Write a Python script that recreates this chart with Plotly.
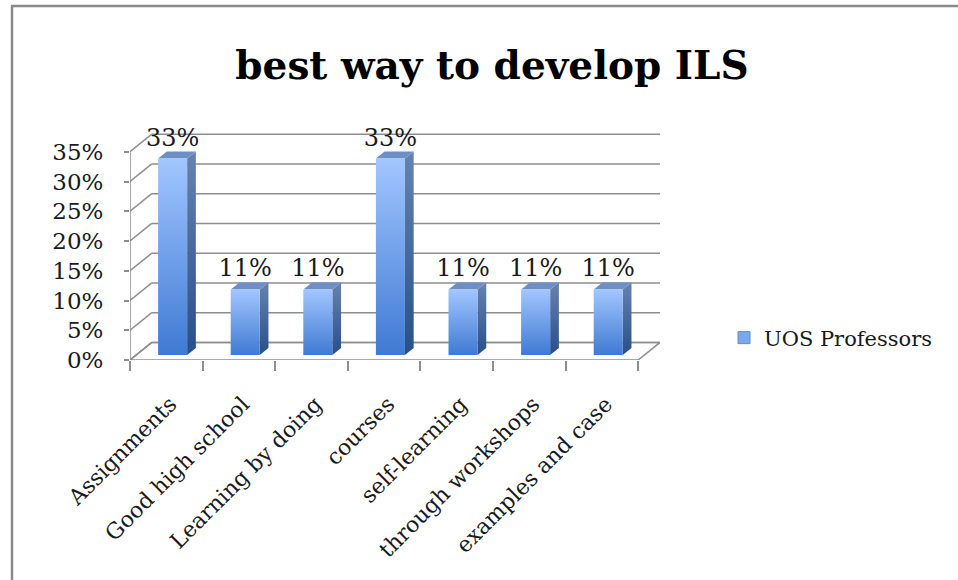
import plotly.graph_objects as go

# ---- data -------------------------------------------------------------
categories = [
    "Assignments",
    "Good high school",
    "Learning by doing",
    "courses",
    "self-learning",
    "through workshops",
    "examples and case",
]
shares = [33, 11, 11, 33, 11, 11, 11]          # percent of respondents
series_name = "UOS Professors"
y_ticks = [0, 5, 10, 15, 20, 25, 30, 35]
y_tick_text = [f"{t}%" for t in y_ticks]
chart_title = "best way to develop ILS"

# ---- pseudo-3D geometry (category units / percentage points) ------------
DEPTH_X = 0.30      # horizontal shift from front floor edge to back wall
DEPTH_Y = 2.95      # vertical shift from front floor edge to back wall
BAR_HALF = 0.20     # half width of a bar's front face
BAR_FRONT = 0.29    # depth fraction where a bar's front face sits
BAR_BACK = 0.69     # depth fraction where a bar's back face sits

X_MIN = -0.5
X_MAX = len(categories) - 0.5
Y_MAX = 40

GRID = "#8e8e8e"
FONT = "DejaVu Serif"
TEXT = "#1a1a1a"

# figure frame in pixels
W, H = 958, 580
M_L, M_R, M_T, M_B = 130, 298, 122, 220


def paper_x(px):
    return (px - M_L) / (W - M_L - M_R)


def paper_y(py):
    return (H - M_B - py) / (H - M_T - M_B)


fig = go.Figure()

# ---- bars: front face, side face and top face ------------------------------
dxs = (BAR_BACK - BAR_FRONT) * DEPTH_X
dys = (BAR_BACK - BAR_FRONT) * DEPTH_Y
base = BAR_FRONT * DEPTH_Y
label_x, label_y = [], []
for i, v in enumerate(shares):
    x0 = i - BAR_HALF + BAR_FRONT * DEPTH_X
    x1 = x0 + 2 * BAR_HALF
    top = base + v

    fig.add_trace(go.Scatter(
        x=[x1, x1 + dxs, x1 + dxs, x1, x1],
        y=[base, base + dys, top + dys, top, base],
        mode="lines", fill="toself", line=dict(width=0),
        fillgradient=dict(type="vertical", start=base, stop=top + dys,
                          colorscale=[[0, "#284f88"], [1, "#6782ae"]]),
        hoverinfo="skip", showlegend=False,
    ))
    fig.add_trace(go.Scatter(
        x=[x0, x1, x1 + dxs, x0 + dxs, x0],
        y=[top, top, top + dys, top + dys, top],
        mode="lines", fill="toself", line=dict(width=0),
        fillcolor="#6e8fc6",
        hoverinfo="skip", showlegend=False,
    ))
    fig.add_trace(go.Scatter(
        x=[x0, x1, x1, x0, x0],
        y=[base, base, top, top, base],
        mode="lines", fill="toself", line=dict(width=0),
        fillgradient=dict(type="vertical", start=base, stop=top,
                          colorscale=[[0, "#3f7ad3"], [1, "#a2c6ff"]]),
        showlegend=False,
        hovertemplate=f"{categories[i]}: {v}%<extra></extra>",
    ))
    label_x.append((x0 + x1) / 2)
    label_y.append(top + dys)

# value labels above the bars
fig.add_trace(go.Scatter(
    x=label_x, y=label_y, mode="text",
    text=[f"{v}%" for v in shares], textposition="top center",
    textfont=dict(family=FONT, size=24, color=TEXT),
    hoverinfo="skip", showlegend=False, cliponaxis=False,
))

# legend entry with a square swatch for the series
fig.add_trace(go.Bar(
    x=[None], y=[None], name=series_name,
    marker=dict(color="#7aa8ec", line=dict(color="#5b8ad6", width=1)),
    showlegend=True,
))

# ---- walls, floor and gridlines ----------------------------------------
shapes = []
floor_path = (f"M {X_MIN},0 L {X_MAX},0 L {X_MAX + DEPTH_X},{DEPTH_Y} "
              f"L {X_MIN + DEPTH_X},{DEPTH_Y} Z")
shapes.append(dict(type="path", path=floor_path, xref="x", yref="y",
                   fillcolor="white", line=dict(color=GRID, width=1.5),
                   layer="below"))
for t in y_ticks:
    # back wall gridline
    shapes.append(dict(type="line", xref="x", yref="y",
                       x0=X_MIN + DEPTH_X, x1=X_MAX + DEPTH_X,
                       y0=t + DEPTH_Y, y1=t + DEPTH_Y,
                       line=dict(color=GRID, width=1.5), layer="below"))
    # side wall diagonal
    shapes.append(dict(type="line", xref="x", yref="y",
                       x0=X_MIN, x1=X_MIN + DEPTH_X, y0=t, y1=t + DEPTH_Y,
                       line=dict(color=GRID, width=1.5), layer="below"))
# vertical value axis line
shapes.append(dict(type="line", xref="x", yref="y", x0=X_MIN, x1=X_MIN,
                   y0=0, y1=y_ticks[-1], line=dict(color=GRID, width=1.5),
                   layer="below"))
# outer frame of the chart area
shapes.append(dict(type="line", xref="paper", yref="paper",
                   x0=paper_x(12), x1=paper_x(12), y0=paper_y(6), y1=paper_y(H),
                   line=dict(color="#8a8a8a", width=2.5)))
shapes.append(dict(type="line", xref="paper", yref="paper",
                   x0=paper_x(11), x1=paper_x(W), y0=paper_y(6), y1=paper_y(6),
                   line=dict(color="#8a8a8a", width=2.5)))

fig.update_layout(
    width=W, height=H,
    margin=dict(l=M_L, r=M_R, t=M_T, b=M_B, autoexpand=False),
    paper_bgcolor="white", plot_bgcolor="white",
    shapes=shapes,
    title=dict(text=f"<b>{chart_title}</b>", x=492 / W, xref="container",
               y=1 - 65 / H, yref="container", xanchor="center",
               yanchor="middle",
               font=dict(family=FONT, size=39, color="black")),
    legend=dict(x=paper_x(724), y=paper_y(338), xanchor="left",
                yanchor="middle", font=dict(family=FONT, size=21, color=TEXT),
                bgcolor="rgba(0,0,0,0)", itemwidth=30),
    xaxis=dict(
        range=[X_MIN, X_MAX + DEPTH_X], tickmode="array",
        tickvals=list(range(len(categories))), ticktext=categories,
        tickangle=-45, ticks="", showgrid=False, zeroline=False,
        showline=False, fixedrange=True,
        tickfont=dict(family=FONT, size=22, color=TEXT),
        ticklabelstandoff=26, ticklabelshift=4,
        minor=dict(tickvals=[k - 0.5 for k in range(len(categories) + 1)],
                   ticks="outside", ticklen=10, tickwidth=1.5,
                   tickcolor=GRID, showgrid=False),
    ),
    yaxis=dict(
        range=[0, Y_MAX], tickmode="array", tickvals=y_ticks,
        ticktext=y_tick_text, ticks="outside", ticklen=5, tickwidth=1.5,
        tickcolor=GRID, showgrid=False, zeroline=False, showline=False,
        fixedrange=True, ticklabelstandoff=16,
        tickfont=dict(family=FONT, size=23, color=TEXT),
    ),
)

fig.write_html("out.html")
